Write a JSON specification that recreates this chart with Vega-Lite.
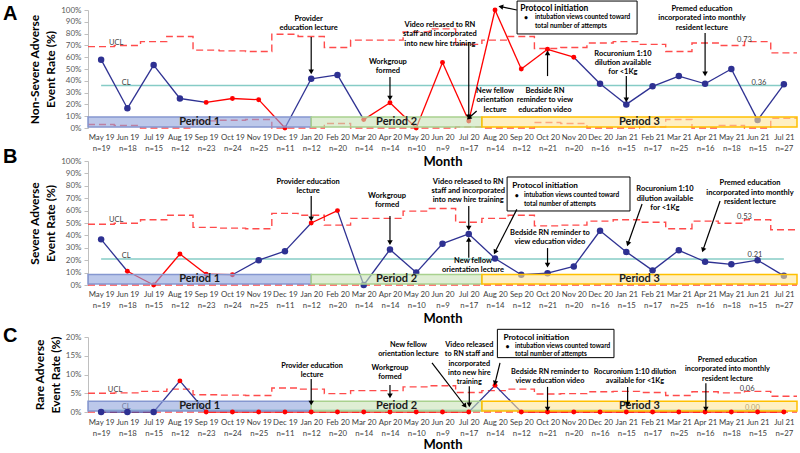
{
"$schema": "https://vega.github.io/schema/vega-lite/v6.json",
"background": "white",
"padding": {"left": 3, "top": 0, "right": 3, "bottom": 0},
"config": {"view": {"stroke": null}, "font": "Lato", "axis": {"labelOverlap": false}},
"datasets": {
"mA": [
{"i":0,"m":"May 19","v":0.579,"c":"b","lc":"b"},{"i":1,"m":"Jun 19","v":0.167,"c":"b","lc":"b"},{"i":2,"m":"Jul 19","v":0.533,"c":"b","lc":"b"},{"i":3,"m":"Aug 19","v":0.25,"c":"b","lc":"b"},{"i":4,"m":"Sep 19","v":0.217,"c":"r","lc":"b"},{"i":5,"m":"Oct 19","v":0.25,"c":"r","lc":"r"},{"i":6,"m":"Nov 19","v":0.24,"c":"r","lc":"r"},{"i":7,"m":"Dec 19","v":0,"c":"r","lc":"r"},{"i":8,"m":"Jan 20","v":0.417,"c":"b","lc":"b"},{"i":9,"m":"Feb 20","v":0.45,"c":"b","lc":"b"},{"i":10,"m":"Mar 20","v":0.071,"c":"r","lc":"b"},{"i":11,"m":"Apr 20","v":0.214,"c":"r","lc":"r"},{"i":12,"m":"May 20","v":0,"c":"r","lc":"r"},{"i":13,"m":"Jun 20","v":0.556,"c":"r","lc":"r"},{"i":14,"m":"Jul 20","v":0.059,"c":"r","lc":"r"},{"i":15,"m":"Aug 20","v":1.0,"c":"r","lc":"r"},{"i":16,"m":"Sep 20","v":0.5,"c":"r","lc":"r"},{"i":17,"m":"Oct 20","v":0.667,"c":"r","lc":"r"},{"i":18,"m":"Nov 20","v":0.6,"c":"r","lc":"r"},{"i":19,"m":"Dec 20","v":0.375,"c":"b","lc":"b"},{"i":20,"m":"Jan 21","v":0.2,"c":"b","lc":"b"},{"i":21,"m":"Feb 21","v":0.353,"c":"b","lc":"b"},{"i":22,"m":"Mar 21","v":0.44,"c":"b","lc":"b"},{"i":23,"m":"Apr 21","v":0.375,"c":"b","lc":"b"},{"i":24,"m":"May 21","v":0.5,"c":"b","lc":"b"},{"i":25,"m":"Jun 21","v":0.067,"c":"b","lc":"b"},{"i":26,"m":"Jul 21","v":0.37,"c":"b","lc":"b"}],
"mB": [
{"i":0,"v":0.368,"c":"b","lc":"b"},{"i":1,"v":0.111,"c":"r","lc":"b"},{"i":2,"v":0,"c":"r","lc":"r"},{"i":3,"v":0.25,"c":"r","lc":"r"},{"i":4,"v":0.087,"c":"r","lc":"r"},{"i":5,"v":0.083,"c":"r","lc":"r"},{"i":6,"v":0.2,"c":"b","lc":"b"},{"i":7,"v":0.273,"c":"b","lc":"b"},{"i":8,"v":0.5,"c":"r","lc":"b"},{"i":9,"v":0.6,"c":"r","lc":"r"},{"i":10,"v":0,"c":"b","lc":"b"},{"i":11,"v":0.286,"c":"b","lc":"b"},{"i":12,"v":0.1,"c":"b","lc":"b"},{"i":13,"v":0.333,"c":"b","lc":"b"},{"i":14,"v":0.412,"c":"b","lc":"b"},{"i":15,"v":0.214,"c":"b","lc":"b"},{"i":16,"v":0.083,"c":"b","lc":"b"},{"i":17,"v":0.095,"c":"b","lc":"b"},{"i":18,"v":0.15,"c":"b","lc":"b"},{"i":19,"v":0.4375,"c":"b","lc":"b"},{"i":20,"v":0.267,"c":"b","lc":"b"},{"i":21,"v":0.118,"c":"b","lc":"b"},{"i":22,"v":0.28,"c":"b","lc":"b"},{"i":23,"v":0.1875,"c":"b","lc":"b"},{"i":24,"v":0.167,"c":"b","lc":"b"},{"i":25,"v":0.2,"c":"b","lc":"b"},{"i":26,"v":0.074,"c":"b","lc":"b"}],
"mC": [
{"i":0,"v":0,"c":"b","lc":"b"},{"i":1,"v":0,"c":"b","lc":"b"},{"i":2,"v":0,"c":"b","lc":"b"},{"i":3,"v":0.083,"c":"r","lc":"b"},{"i":4,"v":0,"c":"r","lc":"b"},{"i":5,"v":0,"c":"r","lc":"r"},{"i":6,"v":0,"c":"r","lc":"r"},{"i":7,"v":0,"c":"r","lc":"r"},{"i":8,"v":0,"c":"r","lc":"r"},{"i":9,"v":0,"c":"r","lc":"r"},{"i":10,"v":0,"c":"r","lc":"r"},{"i":11,"v":0,"c":"r","lc":"r"},{"i":12,"v":0,"c":"r","lc":"r"},{"i":13,"v":0,"c":"r","lc":"r"},{"i":14,"v":0,"c":"r","lc":"r"},{"i":15,"v":0.071,"c":"r","lc":"b"},{"i":16,"v":0,"c":"r","lc":"b"},{"i":17,"v":0,"c":"r","lc":"r"},{"i":18,"v":0,"c":"r","lc":"r"},{"i":19,"v":0,"c":"r","lc":"r"},{"i":20,"v":0,"c":"r","lc":"r"},{"i":21,"v":0,"c":"r","lc":"r"},{"i":22,"v":0,"c":"r","lc":"r"},{"i":23,"v":0,"c":"r","lc":"r"},{"i":24,"v":0,"c":"r","lc":"r"},{"i":25,"v":0,"c":"r","lc":"r"},{"i":26,"v":0,"c":"r","lc":"r"}],
"limA": [{"i":-0.5,"u":0.690,"l":0.030},{"i":0.5,"u":0.699,"l":0.021},{"i":1.5,"u":0.732,"l":0},{"i":2.5,"u":0.776,"l":0},{"i":3.5,"u":0.660,"l":0.060},{"i":4.5,"u":0.654,"l":0.066},{"i":5.5,"u":0.648,"l":0.072},{"i":6.5,"u":0.794,"l":0},{"i":7.5,"u":0.776,"l":0},{"i":8.5,"u":0.682,"l":0.038},{"i":9.5,"u":0.745,"l":0},{"i":10.5,"u":0.745,"l":0},{"i":11.5,"u":0.815,"l":0},{"i":12.5,"u":0.840,"l":0},{"i":13.5,"u":0.709,"l":0.011},{"i":14.5,"u":0.745,"l":0},{"i":15.5,"u":0.776,"l":0},{"i":16.5,"u":0.674,"l":0.046},{"i":17.5,"u":0.682,"l":0.038},{"i":18.5,"u":0.720,"l":0},{"i":19.5,"u":0.732,"l":0},{"i":20.5,"u":0.709,"l":0.011},{"i":21.5,"u":0.648,"l":0.072},{"i":22.5,"u":0.720,"l":0},{"i":23.5,"u":0.699,"l":0.021},{"i":24.5,"u":0.732,"l":0},{"i":25.5,"u":0.637,"l":0.083},{"i":26.5,"u":0.637,"l":0.083}],
"limB": [{"i":-0.5,"u":0.490,"l":0},{"i":0.5,"u":0.498,"l":0},{"i":1.5,"u":0.526,"l":0},{"i":2.5,"u":0.563,"l":0},{"i":3.5,"u":0.465,"l":0},{"i":4.5,"u":0.459,"l":0},{"i":5.5,"u":0.454,"l":0},{"i":6.5,"u":0.578,"l":0},{"i":7.5,"u":0.563,"l":0},{"i":8.5,"u":0.483,"l":0},{"i":9.5,"u":0.537,"l":0},{"i":10.5,"u":0.537,"l":0},{"i":11.5,"u":0.596,"l":0},{"i":12.5,"u":0.617,"l":0},{"i":13.5,"u":0.506,"l":0},{"i":14.5,"u":0.537,"l":0},{"i":15.5,"u":0.563,"l":0},{"i":16.5,"u":0.477,"l":0},{"i":17.5,"u":0.483,"l":0},{"i":18.5,"u":0.515,"l":0},{"i":19.5,"u":0.526,"l":0},{"i":20.5,"u":0.506,"l":0},{"i":21.5,"u":0.454,"l":0},{"i":22.5,"u":0.515,"l":0},{"i":23.5,"u":0.498,"l":0},{"i":24.5,"u":0.526,"l":0},{"i":25.5,"u":0.445,"l":0},{"i":26.5,"u":0.445,"l":0}],
"limC": [{"i":-0.5,"u":0.050,"l":0},{"i":0.5,"u":0.051,"l":0},{"i":1.5,"u":0.055,"l":0},{"i":2.5,"u":0.061,"l":0},{"i":3.5,"u":0.046,"l":0},{"i":4.5,"u":0.045,"l":0},{"i":5.5,"u":0.044,"l":0},{"i":6.5,"u":0.064,"l":0},{"i":7.5,"u":0.061,"l":0},{"i":8.5,"u":0.049,"l":0},{"i":9.5,"u":0.057,"l":0},{"i":10.5,"u":0.057,"l":0},{"i":11.5,"u":0.067,"l":0},{"i":12.5,"u":0.070,"l":0},{"i":13.5,"u":0.052,"l":0},{"i":14.5,"u":0.057,"l":0},{"i":15.5,"u":0.061,"l":0},{"i":16.5,"u":0.048,"l":0},{"i":17.5,"u":0.049,"l":0},{"i":18.5,"u":0.054,"l":0},{"i":19.5,"u":0.055,"l":0},{"i":20.5,"u":0.052,"l":0},{"i":21.5,"u":0.044,"l":0},{"i":22.5,"u":0.054,"l":0},{"i":23.5,"u":0.051,"l":0},{"i":24.5,"u":0.055,"l":0},{"i":25.5,"u":0.042,"l":0},{"i":26.5,"u":0.042,"l":0}],
"clA": [{"a":0,"b":26,"v":0.36}],
"clB": [{"a":0,"b":26,"v":0.21}],
"clC": [{"a":0,"b":26,"v":0.0044}],
"bands": [{"p":"Period 1","a":-0.5,"b":8,"m":3.75,"k":"1"},{"p":"Period 2","a":8,"b":14.5,"m":11.25,"k":"2"},{"p":"Period 3","a":14.5,"b":26.5,"m":20.5,"k":"3"}],
"limTA": [{"x":0.57,"y":0.72,"t":"UCL"},{"x":0.95,"y":0.379,"t":"CL"},{"x":24.5,"y":0.746,"t":"0.73"},{"x":25.05,"y":0.384,"t":"0.36"}],
"limTB": [{"x":0.57,"y":0.527,"t":"UCL"},{"x":0.95,"y":0.234,"t":"CL"},{"x":24.5,"y":0.55,"t":"0.53"},{"x":24.9,"y":0.24,"t":"0.21"}],
"limTC": [{"x":0.53,"y":0.0587,"t":"UCL"},{"x":0.95,"y":0.0133,"t":"CL"},{"x":24.6,"y":0.0605,"t":"0.06"},{"x":24.8,"y":0.0107,"t":"0.00"}],
"annA": [{"x":7.9,"y":0.958,"t":"Provider|education lecture"},{"x":10.92,"y":0.593,"t":"Workgroup|formed"},{"x":12.9,"y":0.907,"t":"Video released to RN|staff and incorporated|into new hire training"},{"x":15.0,"y":0.347,"t":"New fellow|orientation|lecture"},{"x":16.9,"y":0.347,"t":"Bedside RN|reminder to view|education video"},{"x":19.87,"y":0.664,"t":"Rocuronium 1:10|dilution available|for <1Kg"},{"x":22.88,"y":1.042,"t":"Premed education|incorporated into monthly|resident lecture"}],
"annB": [{"x":7.88,"y":0.863,"t":"Provider education|lecture"},{"x":10.89,"y":0.75,"t":"Workgroup|formed"},{"x":13.98,"y":0.865,"t":"Video released to RN|staff and incorporated|into new hire training"},{"x":14.16,"y":0.226,"t":"New fellow|orientation lecture"},{"x":17.09,"y":0.454,"t":"Bedside RN reminder to|view education video"},{"x":21.47,"y":0.804,"t":"Rocuronium 1:10|dilution available|for <1Kg"},{"x":24.71,"y":0.852,"t":"Premed education|incorporated into monthly|resident lecture"}],
"annC": [{"x":8.03,"y":0.133,"t":"Provider education|lecture"},{"x":11.0,"y":0.129,"t":"Workgroup|formed"},{"x":11.7,"y":0.189,"t":"New fellow|orientation lecture"},{"x":14.02,"y":0.189,"t":"Video released|to RN staff and|incorporated|into new hire|training"},{"x":17.09,"y":0.117,"t":"Bedside RN reminder to|view education video"},{"x":20.33,"y":0.117,"t":"Rocuronium 1:10 dilution|available for <1Kg"},{"x":23.85,"y":0.149,"t":"Premed education|incorporated into monthly|resident lecture"}],
"arrA": [{"x1":8,"y1":0.771,"x2":8,"y2":0.475,"a":180},{"x1":11,"y1":0.432,"x2":11,"y2":0.254,"a":180},{"x1":14,"y1":0.729,"x2":14,"y2":0.095,"a":180},{"x1":14.3,"y1":0.144,"x2":14.0,"y2":0.085,"a":228},{"x1":15.83,"y1":1.0,"x2":15.22,"y2":1.028,"a":282},{"x1":17,"y1":0.44,"x2":17,"y2":0.636,"a":0},{"x1":20,"y1":0.44,"x2":20,"y2":0.239,"a":180},{"x1":23,"y1":0.805,"x2":23,"y2":0.458,"a":180}],
"arrB": [{"x1":8,"y1":0.718,"x2":8,"y2":0.534,"a":180},{"x1":11,"y1":0.556,"x2":11,"y2":0.341,"a":180},{"x1":14,"y1":0.637,"x2":14,"y2":0.459,"a":180},{"x1":14,"y1":0.22,"x2":14,"y2":0.368,"a":0},{"x1":15.83,"y1":0.61,"x2":15.0,"y2":0.266,"a":207},{"x1":17,"y1":0.298,"x2":17,"y2":0.161,"a":180},{"x1":20.6,"y1":0.653,"x2":20.06,"y2":0.331,"a":199},{"x1":23.57,"y1":0.677,"x2":22.92,"y2":0.282,"a":199}],
"arrC": [{"x1":8,"y1":0.088,"x2":8,"y2":0.024,"a":180},{"x1":11,"y1":0.072,"x2":11,"y2":0.043,"a":180},{"x1":12.6,"y1":0.131,"x2":13.86,"y2":0.016,"a":142},{"x1":14.02,"y1":0.069,"x2":14.02,"y2":0.019,"a":180},{"x1":15.19,"y1":0.131,"x2":15.0,"y2":0.077,"a":194},{"x1":17,"y1":0.067,"x2":17,"y2":0.008,"a":180},{"x1":20.05,"y1":0.067,"x2":20.05,"y2":0.021,"a":180},{"x1":23.03,"y1":0.077,"x2":23.03,"y2":0.008,"a":180}],
"boxA": [{"x1":15.84,"x2":20.41,"y1":1.076,"y2":0.797}],
"boxB": [{"x1":15.46,"x2":20.14,"y1":0.871,"y2":0.597}],
"boxC": [{"x1":15.09,"x2":19.53,"y1":0.2205,"y2":0.145}],
"boxTA": [{"x":15.96,"y":1.047,"t":"Protocol initiation","s":8.5},{"x":16.1,"y":0.962,"t":"•","s":7},{"x":16.52,"y":0.962,"t":"intubation views counted toward|total number of attempts","s":6.5}],
"boxTB": [{"x":15.66,"y":0.831,"t":"Protocol initiation","s":8.2},{"x":15.75,"y":0.75,"t":"•","s":7},{"x":16.1,"y":0.75,"t":"intubation views counted toward|total number of attempts","s":6.5}],
"boxTC": [{"x":15.32,"y":0.209,"t":"Protocol initiation","s":8.2},{"x":15.4,"y":0.184,"t":"•","s":7},{"x":15.76,"y":0.184,"t":"intubation views counted toward|total number of attempts","s":6.5}]
},
"bounds": "flush",
"spacing": 33,
"vconcat": [
{
"width": 709, "height": 118,
"title": {"text": "A", "anchor": "start", "frame": "group", "fontSize": 20, "fontWeight": "bold", "font": "Liberation Sans", "color": "black", "dx": -85, "dy": 27},
"layer": [
{"data": {"name": "limA"}, "mark": {"type": "line", "interpolate": "step-after", "color": "#FF4B4B", "strokeDash": [7, 4], "strokeWidth": 1.4},
 "encoding": {
  "x": {"field": "i", "type": "quantitative", "scale": {"domain": [-0.5, 26.5], "nice": false, "zero": false},
   "axis": {"values": [0,1,2,3,4,5,6,7,8,9,10,11,12,13,14,15,16,17,18,19,20,21,22,23,24,25,26], "tickCount": 40, "labelExpr": "split(['May 19|n=19','Jun 19|n=18','Jul 19|n=15','Aug 19|n=12','Sep 19|n=23','Oct 19|n=24','Nov 19|n=25','Dec 19|n=11','Jan 20|n=12','Feb 20|n=20','Mar 20|n=14','Apr 20|n=14','May 20|n=10','Jun 20|n=9','Jul 20|n=17','Aug 20|n=14','Sep 20|n=12','Oct 20|n=21','Nov 20|n=20','Dec 20|n=16','Jan 21|n=15','Feb 21|n=17','Mar 21|n=25','Apr 21|n=16','May 21|n=18','Jun 21|n=15','Jul 21|n=27'][datum.value], '|')", "title": "Month", "grid": false, "ticks": false, "domain": false, "labelFontSize": 7.8, "labelColor": "#404040", "labelLineHeight": 11.5, "labelPadding": 5, "labelOverlap": false, "labelBound": false, "labelFlush": false, "titleFontSize": 13, "titleFontWeight": "bold", "titleColor": "black", "titlePadding": 3}},
  "y": {"field": "u", "type": "quantitative", "scale": {"domain": [0, 1], "nice": false},
   "axis": {"values": [0,0.1,0.2,0.3,0.4,0.5,0.6,0.7,0.8,0.9,1], "tickCount": 20, "format": ".0%", "title": ["Non-Severe Adverse", "Event Rate (%)"], "grid": false, "domainColor": "#BFBFBF", "tickColor": "#BFBFBF", "tickSize": 4, "labelFontSize": 8, "labelColor": "#595959", "labelPadding": 3, "labelOverlap": false, "titleFontSize": 12, "titleFontWeight": "bold", "titleColor": "black", "titlePadding": 3, "titleLineHeight": 16}}}},
{"data": {"name": "limA"}, "mark": {"type": "line", "interpolate": "step-after", "color": "#FF4B4B", "strokeDash": [7, 4], "strokeWidth": 1.4},
 "encoding": {"x": {"field": "i", "type": "quantitative"}, "y": {"field": "l", "type": "quantitative"}}},
{"data": {"name": "clA"}, "mark": {"type": "rule", "color": "#86CCC6", "strokeWidth": 1.5},
 "encoding": {"x": {"field": "a", "type": "quantitative"}, "x2": {"field": "b"}, "y": {"field": "v", "type": "quantitative"}}},
{"data": {"name": "mA"}, "transform": [{"window": [{"op": "lag", "field": "v", "as": "pv"}, {"op": "lag", "field": "i", "as": "pi"}], "sort": [{"field": "i"}]}, {"filter": "datum.pi != null"}],
 "mark": {"type": "rule", "strokeWidth": 1.3},
 "encoding": {"x": {"field": "pi", "type": "quantitative"}, "x2": {"field": "i"}, "y": {"field": "pv", "type": "quantitative"}, "y2": {"field": "v"},
  "color": {"field": "lc", "type": "nominal", "scale": {"domain": ["b", "r"], "range": ["#2E3192", "#FF0000"]}, "legend": null}}},
{"data": {"name": "mA"}, "mark": {"type": "point", "filled": true, "opacity": 1, "shape": "circle"},
 "encoding": {"x": {"field": "i", "type": "quantitative"}, "y": {"field": "v", "type": "quantitative"},
  "color": {"field": "c", "type": "nominal", "scale": {"domain": ["b", "r"], "range": ["#1F2A86", "#FF0000"]}, "legend": null},
  "size": {"field": "c", "type": "nominal", "scale": {"domain": ["b", "r"], "range": [42, 24]}, "legend": null}}},
{"data": {"name": "bands"}, "mark": {"type": "rect", "fillOpacity": 0.6, "strokeWidth": 1.5},
 "encoding": {"x": {"field": "a", "type": "quantitative"}, "x2": {"field": "b"}, "y": {"datum": 0.008, "type": "quantitative"}, "y2": {"datum": 0.093},
  "fill": {"field": "k", "type": "nominal", "scale": {"domain": ["1", "2", "3"], "range": ["#8FA3DC", "#C9E2B8", "#FFE699"]}, "legend": null},
  "stroke": {"field": "k", "type": "nominal", "scale": {"domain": ["1", "2", "3"], "range": ["#8597D0", "#A9D18E", "#FFC000"]}, "legend": null}}},
{"data": {"name": "bands"}, "mark": {"type": "text", "fontSize": 11, "fontWeight": "bold", "color": "#1A1A1A", "baseline": "middle"},
 "encoding": {"x": {"field": "m", "type": "quantitative"}, "y": {"datum": 0.05, "type": "quantitative"}, "text": {"field": "p"}}},
{"data": {"name": "limTA"}, "mark": {"type": "text", "fontSize": 7.5, "color": "#404040", "baseline": "middle"},
 "encoding": {"x": {"field": "x", "type": "quantitative"}, "y": {"field": "y", "type": "quantitative"}, "text": {"field": "t"}}},
{"data": {"name": "annA"}, "mark": {"type": "text", "fontSize": 7.5, "fontWeight": "bold", "color": "black", "baseline": "top", "lineBreak": "|", "lineHeight": 9.3},
 "encoding": {"x": {"field": "x", "type": "quantitative"}, "y": {"field": "y", "type": "quantitative"}, "text": {"field": "t"}}},
{"data": {"name": "boxA"}, "mark": {"type": "rect", "fill": "white", "stroke": "black", "strokeWidth": 1},
 "encoding": {"x": {"field": "x1", "type": "quantitative"}, "x2": {"field": "x2"}, "y": {"field": "y1", "type": "quantitative"}, "y2": {"field": "y2"}}},
{"data": {"name": "boxTA"}, "mark": {"type": "text", "fontWeight": "bold", "color": "black", "align": "left", "baseline": "top", "lineBreak": "|", "lineHeight": 9},
 "encoding": {"x": {"field": "x", "type": "quantitative"}, "y": {"field": "y", "type": "quantitative"}, "text": {"field": "t"}, "size": {"field": "s", "type": "quantitative", "scale": null}}},
{"data": {"name": "arrA"}, "mark": {"type": "rule", "color": "black", "strokeWidth": 1.2},
 "encoding": {"x": {"field": "x1", "type": "quantitative"}, "x2": {"field": "x2"}, "y": {"field": "y1", "type": "quantitative"}, "y2": {"field": "y2"}}},
{"data": {"name": "arrA"}, "mark": {"type": "point", "shape": "triangle-up", "filled": true, "color": "black", "opacity": 1, "size": 30},
 "encoding": {"x": {"field": "x2", "type": "quantitative"}, "y": {"field": "y2", "type": "quantitative"}, "angle": {"field": "a", "type": "quantitative", "scale": null}}}
]
},
{
"bounds": "flush",
"spacing": 52,
"vconcat": [
{
"width": 709, "height": 124,
"title": {"text": "B", "anchor": "start", "frame": "group", "fontSize": 20, "fontWeight": "bold", "font": "Liberation Sans", "color": "black", "dx": -85, "dy": 14},
"layer": [
{"data": {"name": "limB"}, "mark": {"type": "line", "interpolate": "step-after", "color": "#FF4B4B", "strokeDash": [7, 4], "strokeWidth": 1.4},
 "encoding": {
  "x": {"field": "i", "type": "quantitative", "scale": {"domain": [-0.5, 26.5], "nice": false, "zero": false},
   "axis": {"values": [0,1,2,3,4,5,6,7,8,9,10,11,12,13,14,15,16,17,18,19,20,21,22,23,24,25,26], "tickCount": 40, "labelExpr": "split(['May 19|n=19','Jun 19|n=18','Jul 19|n=15','Aug 19|n=12','Sep 19|n=23','Oct 19|n=24','Nov 19|n=25','Dec 19|n=11','Jan 20|n=12','Feb 20|n=20','Mar 20|n=14','Apr 20|n=14','May 20|n=10','Jun 20|n=9','Jul 20|n=17','Aug 20|n=14','Sep 20|n=12','Oct 20|n=21','Nov 20|n=20','Dec 20|n=16','Jan 21|n=15','Feb 21|n=17','Mar 21|n=25','Apr 21|n=16','May 21|n=18','Jun 21|n=15','Jul 21|n=27'][datum.value], '|')", "title": "Month", "grid": false, "ticks": false, "domain": false, "labelFontSize": 7.8, "labelColor": "#404040", "labelLineHeight": 11.5, "labelPadding": 5, "labelOverlap": false, "labelBound": false, "labelFlush": false, "titleFontSize": 13, "titleFontWeight": "bold", "titleColor": "black", "titlePadding": 3}},
  "y": {"field": "u", "type": "quantitative", "scale": {"domain": [0, 1], "nice": false},
   "axis": {"values": [0,0.1,0.2,0.3,0.4,0.5,0.6,0.7,0.8,0.9,1], "tickCount": 20, "format": ".0%", "title": ["Severe Adverse", "Event Rate (%)"], "grid": false, "domainColor": "#BFBFBF", "tickColor": "#BFBFBF", "tickSize": 4, "labelFontSize": 8, "labelColor": "#595959", "labelPadding": 3, "labelOverlap": false, "titleFontSize": 12, "titleFontWeight": "bold", "titleColor": "black", "titlePadding": 3, "titleLineHeight": 16}}}},
{"data": {"name": "limB"}, "mark": {"type": "line", "interpolate": "step-after", "color": "#FF4B4B", "strokeDash": [7, 4], "strokeWidth": 1.4},
 "encoding": {"x": {"field": "i", "type": "quantitative"}, "y": {"field": "l", "type": "quantitative"}}},
{"data": {"name": "clB"}, "mark": {"type": "rule", "color": "#86CCC6", "strokeWidth": 1.5},
 "encoding": {"x": {"field": "a", "type": "quantitative"}, "x2": {"field": "b"}, "y": {"field": "v", "type": "quantitative"}}},
{"data": {"name": "mB"}, "transform": [{"window": [{"op": "lag", "field": "v", "as": "pv"}, {"op": "lag", "field": "i", "as": "pi"}], "sort": [{"field": "i"}]}, {"filter": "datum.pi != null"}],
 "mark": {"type": "rule", "strokeWidth": 1.3},
 "encoding": {"x": {"field": "pi", "type": "quantitative"}, "x2": {"field": "i"}, "y": {"field": "pv", "type": "quantitative"}, "y2": {"field": "v"},
  "color": {"field": "lc", "type": "nominal", "scale": {"domain": ["b", "r"], "range": ["#2E3192", "#FF0000"]}, "legend": null}}},
{"data": {"name": "mB"}, "mark": {"type": "point", "filled": true, "opacity": 1, "shape": "circle"},
 "encoding": {"x": {"field": "i", "type": "quantitative"}, "y": {"field": "v", "type": "quantitative"},
  "color": {"field": "c", "type": "nominal", "scale": {"domain": ["b", "r"], "range": ["#1F2A86", "#FF0000"]}, "legend": null},
  "size": {"field": "c", "type": "nominal", "scale": {"domain": ["b", "r"], "range": [42, 24]}, "legend": null}}},
{"data": {"name": "bands"}, "mark": {"type": "rect", "fillOpacity": 0.6, "strokeWidth": 1.5},
 "encoding": {"x": {"field": "a", "type": "quantitative"}, "x2": {"field": "b"}, "y": {"datum": 0.008, "type": "quantitative"}, "y2": {"datum": 0.084},
  "fill": {"field": "k", "type": "nominal", "scale": {"domain": ["1", "2", "3"], "range": ["#8FA3DC", "#C9E2B8", "#FFE699"]}, "legend": null},
  "stroke": {"field": "k", "type": "nominal", "scale": {"domain": ["1", "2", "3"], "range": ["#8597D0", "#A9D18E", "#FFC000"]}, "legend": null}}},
{"data": {"name": "bands"}, "mark": {"type": "text", "fontSize": 11, "fontWeight": "bold", "color": "#1A1A1A", "baseline": "middle"},
 "encoding": {"x": {"field": "m", "type": "quantitative"}, "y": {"datum": 0.045, "type": "quantitative"}, "text": {"field": "p"}}},
{"data": {"name": "limTB"}, "mark": {"type": "text", "fontSize": 7.5, "color": "#404040", "baseline": "middle"},
 "encoding": {"x": {"field": "x", "type": "quantitative"}, "y": {"field": "y", "type": "quantitative"}, "text": {"field": "t"}}},
{"data": {"name": "annB"}, "mark": {"type": "text", "fontSize": 7.5, "fontWeight": "bold", "color": "black", "baseline": "top", "lineBreak": "|", "lineHeight": 9.3},
 "encoding": {"x": {"field": "x", "type": "quantitative"}, "y": {"field": "y", "type": "quantitative"}, "text": {"field": "t"}}},
{"data": {"name": "boxB"}, "mark": {"type": "rect", "fill": "white", "stroke": "black", "strokeWidth": 1},
 "encoding": {"x": {"field": "x1", "type": "quantitative"}, "x2": {"field": "x2"}, "y": {"field": "y1", "type": "quantitative"}, "y2": {"field": "y2"}}},
{"data": {"name": "boxTB"}, "mark": {"type": "text", "fontWeight": "bold", "color": "black", "align": "left", "baseline": "top", "lineBreak": "|", "lineHeight": 9},
 "encoding": {"x": {"field": "x", "type": "quantitative"}, "y": {"field": "y", "type": "quantitative"}, "text": {"field": "t"}, "size": {"field": "s", "type": "quantitative", "scale": null}}},
{"data": {"name": "arrB"}, "mark": {"type": "rule", "color": "black", "strokeWidth": 1.2},
 "encoding": {"x": {"field": "x1", "type": "quantitative"}, "x2": {"field": "x2"}, "y": {"field": "y1", "type": "quantitative"}, "y2": {"field": "y2"}}},
{"data": {"name": "arrB"}, "mark": {"type": "point", "shape": "triangle-up", "filled": true, "color": "black", "opacity": 1, "size": 30},
 "encoding": {"x": {"field": "x2", "type": "quantitative"}, "y": {"field": "y2", "type": "quantitative"}, "angle": {"field": "a", "type": "quantitative", "scale": null}}}
]
},
{
"width": 709, "height": 75,
"title": {"text": "C", "anchor": "start", "frame": "group", "fontSize": 20, "fontWeight": "bold", "font": "Liberation Sans", "color": "black", "dx": -85, "dy": 21},
"layer": [
{"data": {"name": "limC"}, "mark": {"type": "line", "interpolate": "step-after", "color": "#FF4B4B", "strokeDash": [7, 4], "strokeWidth": 1.4},
 "encoding": {
  "x": {"field": "i", "type": "quantitative", "scale": {"domain": [-0.5, 26.5], "nice": false, "zero": false},
   "axis": {"values": [0,1,2,3,4,5,6,7,8,9,10,11,12,13,14,15,16,17,18,19,20,21,22,23,24,25,26], "tickCount": 40, "labelExpr": "split(['May 19|n=19','Jun 19|n=18','Jul 19|n=15','Aug 19|n=12','Sep 19|n=23','Oct 19|n=24','Nov 19|n=25','Dec 19|n=11','Jan 20|n=12','Feb 20|n=20','Mar 20|n=14','Apr 20|n=14','May 20|n=10','Jun 20|n=9','Jul 20|n=17','Aug 20|n=14','Sep 20|n=12','Oct 20|n=21','Nov 20|n=20','Dec 20|n=16','Jan 21|n=15','Feb 21|n=17','Mar 21|n=25','Apr 21|n=16','May 21|n=18','Jun 21|n=15','Jul 21|n=27'][datum.value], '|')", "title": "Month", "grid": false, "ticks": false, "domain": false, "labelFontSize": 7.8, "labelColor": "#404040", "labelLineHeight": 11, "labelPadding": 6, "labelOverlap": false, "labelBound": false, "labelFlush": false, "titleFontSize": 13, "titleFontWeight": "bold", "titleColor": "black", "titlePadding": 2}},
  "y": {"field": "u", "type": "quantitative", "scale": {"domain": [0, 0.2], "nice": false},
   "axis": {"values": [0,0.05,0.1,0.15,0.2], "tickCount": 20, "format": ".0%", "title": ["Rare Adverse", "Event Rate (%)"], "grid": false, "domainColor": "#BFBFBF", "tickColor": "#BFBFBF", "tickSize": 4, "labelFontSize": 8, "labelColor": "#595959", "labelPadding": 3, "labelOverlap": false, "titleFontSize": 12, "titleFontWeight": "bold", "titleColor": "black", "titlePadding": 3, "titleLineHeight": 16}}}},
{"data": {"name": "limC"}, "mark": {"type": "line", "interpolate": "step-after", "color": "#FF4B4B", "strokeDash": [7, 4], "strokeWidth": 1.4},
 "encoding": {"x": {"field": "i", "type": "quantitative"}, "y": {"field": "l", "type": "quantitative"}}},
{"data": {"name": "clC"}, "mark": {"type": "rule", "color": "#86CCC6", "strokeWidth": 1.5},
 "encoding": {"x": {"field": "a", "type": "quantitative"}, "x2": {"field": "b"}, "y": {"field": "v", "type": "quantitative"}}},
{"data": {"name": "mC"}, "transform": [{"window": [{"op": "lag", "field": "v", "as": "pv"}, {"op": "lag", "field": "i", "as": "pi"}], "sort": [{"field": "i"}]}, {"filter": "datum.pi != null"}],
 "mark": {"type": "rule", "strokeWidth": 1.3},
 "encoding": {"x": {"field": "pi", "type": "quantitative"}, "x2": {"field": "i"}, "y": {"field": "pv", "type": "quantitative"}, "y2": {"field": "v"},
  "color": {"field": "lc", "type": "nominal", "scale": {"domain": ["b", "r"], "range": ["#2E3192", "#FF0000"]}, "legend": null}}},
{"data": {"name": "limTC"}, "mark": {"type": "text", "fontSize": 7.5, "color": "#404040", "baseline": "middle"},
 "encoding": {"x": {"field": "x", "type": "quantitative"}, "y": {"field": "y", "type": "quantitative"}, "text": {"field": "t"}}},
{"data": {"name": "bands"}, "mark": {"type": "rect", "fillOpacity": 0.6, "strokeWidth": 1.5},
 "encoding": {"x": {"field": "a", "type": "quantitative"}, "x2": {"field": "b"}, "y": {"datum": 0.0027, "type": "quantitative"}, "y2": {"datum": 0.029},
  "fill": {"field": "k", "type": "nominal", "scale": {"domain": ["1", "2", "3"], "range": ["#8FA3DC", "#C9E2B8", "#FFE699"]}, "legend": null},
  "stroke": {"field": "k", "type": "nominal", "scale": {"domain": ["1", "2", "3"], "range": ["#8597D0", "#A9D18E", "#FFC000"]}, "legend": null}}},
{"data": {"name": "mC"}, "mark": {"type": "point", "filled": true, "opacity": 1, "shape": "circle"},
 "encoding": {"x": {"field": "i", "type": "quantitative"}, "y": {"field": "v", "type": "quantitative"},
  "color": {"field": "c", "type": "nominal", "scale": {"domain": ["b", "r"], "range": ["#1F2A86", "#FF0000"]}, "legend": null},
  "size": {"field": "c", "type": "nominal", "scale": {"domain": ["b", "r"], "range": [42, 24]}, "legend": null}}},
{"data": {"name": "bands"}, "mark": {"type": "text", "fontSize": 11, "fontWeight": "bold", "color": "#1A1A1A", "baseline": "middle"},
 "encoding": {"x": {"field": "m", "type": "quantitative"}, "y": {"datum": 0.016, "type": "quantitative"}, "text": {"field": "p"}}},
{"data": {"name": "annC"}, "mark": {"type": "text", "fontSize": 7.3, "fontWeight": "bold", "color": "black", "baseline": "top", "lineBreak": "|", "lineHeight": 9.3},
 "encoding": {"x": {"field": "x", "type": "quantitative"}, "y": {"field": "y", "type": "quantitative"}, "text": {"field": "t"}}},
{"data": {"name": "boxC"}, "mark": {"type": "rect", "fill": "white", "stroke": "black", "strokeWidth": 1},
 "encoding": {"x": {"field": "x1", "type": "quantitative"}, "x2": {"field": "x2"}, "y": {"field": "y1", "type": "quantitative"}, "y2": {"field": "y2"}}},
{"data": {"name": "boxTC"}, "mark": {"type": "text", "fontWeight": "bold", "color": "black", "align": "left", "baseline": "top", "lineBreak": "|", "lineHeight": 8},
 "encoding": {"x": {"field": "x", "type": "quantitative"}, "y": {"field": "y", "type": "quantitative"}, "text": {"field": "t"}, "size": {"field": "s", "type": "quantitative", "scale": null}}},
{"data": {"name": "arrC"}, "mark": {"type": "rule", "color": "black", "strokeWidth": 1.2},
 "encoding": {"x": {"field": "x1", "type": "quantitative"}, "x2": {"field": "x2"}, "y": {"field": "y1", "type": "quantitative"}, "y2": {"field": "y2"}}},
{"data": {"name": "arrC"}, "mark": {"type": "point", "shape": "triangle-up", "filled": true, "color": "black", "opacity": 1, "size": 30},
 "encoding": {"x": {"field": "x2", "type": "quantitative"}, "y": {"field": "y2", "type": "quantitative"}, "angle": {"field": "a", "type": "quantitative", "scale": null}}}
]
}
]
}
]
}
